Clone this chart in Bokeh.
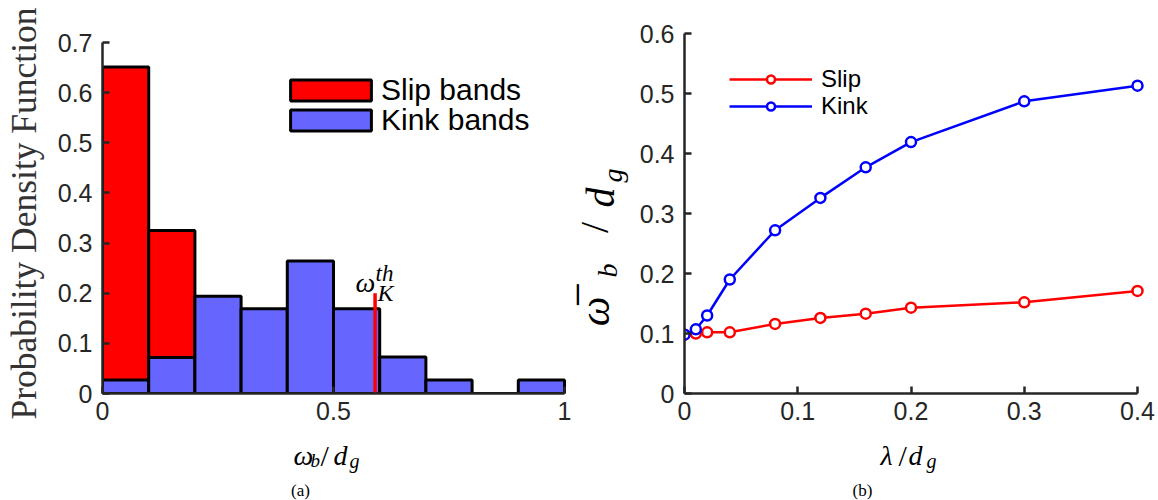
import math
from bokeh.plotting import figure
from bokeh.models import (Range1d, FixedTicker, CustomJSTickFormatter, Legend,
                          LegendItem, Label)
from bokeh.layouts import row, column
from bokeh.embed import file_html
from bokeh.resources import INLINE

# ---------------- data: (a) histogram ----------------
bin_edges = [0.0, 0.1, 0.2, 0.3, 0.4, 0.5, 0.6, 0.7, 0.8, 0.9, 1.0]
slip_pdf = [0.651, 0.325, 0.0, 0.0, 0.0, 0.0, 0.0, 0.0, 0.0, 0.0]
kink_pdf = [0.027, 0.072, 0.194, 0.169, 0.264, 0.169, 0.073, 0.027, 0.0, 0.027]
threshold_x = [0.59]
threshold_top = [0.2]
hist_xticks = [0, 0.5, 1]
hist_yticks = [0, 0.1, 0.2, 0.3, 0.4, 0.5, 0.6, 0.7]
hist_labels = ["Slip bands", "Kink bands"]

# ---------------- data: (b) mean band width ----------------
lam = [0, 0.01, 0.02, 0.04, 0.08, 0.12, 0.16, 0.2, 0.3, 0.4]
slip_mean = [0.098, 0.100, 0.102, 0.102, 0.116, 0.126, 0.133, 0.143, 0.152, 0.171]
kink_mean = [0.098, 0.107, 0.130, 0.190, 0.272, 0.326, 0.377, 0.419, 0.487, 0.513]
line_xticks = [0, 0.1, 0.2, 0.3, 0.4]
line_yticks = [0, 0.1, 0.2, 0.3, 0.4, 0.5, 0.6]
line_labels = ["Slip", "Kink"]

AX = "#262626"
SANS = "Liberation Sans"
SERIF = "Liberation Serif"
FMT = "return String(Math.round(tick*10)/10);"

TOP, FRAME_H, BOTTOM = 33, 360, 38


def style_axes(p, xticks, yticks):
    for ax in (p.xaxis[0], p.yaxis[0]):
        ax.axis_line_color = AX
        ax.axis_line_width = 2.5
        ax.major_tick_line_color = AX
        ax.major_tick_line_width = 2.5
        ax.major_tick_in = 7
        ax.major_tick_out = 0
        ax.minor_tick_line_color = None
        ax.major_label_text_font = SANS
        ax.major_label_text_font_size = "25px"
        ax.major_label_text_color = AX
        ax.formatter = CustomJSTickFormatter(code=FMT)
    p.xaxis[0].ticker = FixedTicker(ticks=xticks)
    p.yaxis[0].ticker = FixedTicker(ticks=yticks)
    p.xaxis[0].major_label_standoff = 8
    p.yaxis[0].major_label_standoff = 10
    p.grid.visible = False
    p.outline_line_color = None


def txt(p, text, x, y, size, italic=True, angle=0.0, align="left",
        baseline="alphabetic", font=SERIF, color="black"):
    p.add_layout(Label(x=x, y=y, x_units="screen", y_units="screen", text=text,
                       text_font=font, text_font_size=size,
                       text_font_style="italic" if italic else "normal",
                       angle=angle, text_align=align, text_baseline=baseline,
                       text_color=color))


def one_legend(p, label, renderers, x, y, size, gw, gh, standoff):
    leg = Legend(items=[LegendItem(label=label, renderers=renderers)],
                 location=(x, y), padding=0, margin=0, spacing=0,
                 border_line_color=None, background_fill_alpha=0,
                 label_text_font=SANS, label_text_font_size=size,
                 label_text_color="black",
                 glyph_width=gw, glyph_height=gh, label_standoff=standoff)
    p.add_layout(leg)


def text_fig(w, h, top=0, bottom=0):
    t = figure(frame_width=w, frame_height=h, min_border_left=0,
               min_border_right=0, min_border_top=top, min_border_bottom=bottom,
               x_range=Range1d(0, 1), y_range=Range1d(0, 1),
               x_axis_location=None, y_axis_location=None,
               output_backend="svg", toolbar_location=None)
    t.outline_line_color = None
    t.grid.visible = False
    return t


# ================= panel (a) =================
p1 = figure(frame_width=469, frame_height=FRAME_H,
            min_border_left=102, min_border_right=0, min_border_top=TOP,
            min_border_bottom=BOTTOM,
            x_range=Range1d(0, 1 + 7 / 462), y_range=Range1d(0, 0.7 * FRAME_H / 351),
            output_backend="svg", toolbar_location=None)
style_axes(p1, hist_xticks, hist_yticks)
p1.xaxis[0].bounds = (0, 1)
p1.yaxis[0].bounds = (0, 0.7)
p1.yaxis[0].axis_label = "Probability Density Function"
p1.yaxis[0].axis_label_text_font = SERIF
p1.yaxis[0].axis_label_text_font_style = "normal"
p1.yaxis[0].axis_label_text_font_size = "35.5px"
p1.yaxis[0].axis_label_text_color = "#333333"
p1.yaxis[0].axis_label_standoff = 11

r_slip = p1.quad(left=bin_edges[:-1], right=bin_edges[1:], bottom=0, top=slip_pdf,
                 fill_color="#FF0000", line_color="black", line_width=3)
r_kink = p1.quad(left=bin_edges[:-1], right=bin_edges[1:], bottom=0, top=kink_pdf,
                 fill_color="#6666FF", line_color="black", line_width=3)
p1.segment(x0=threshold_x, y0=[0], x1=threshold_x, y1=threshold_top,
           line_color="#FF0000", line_width=3.5)

# area legend glyphs are drawn inset by 10% on each side
one_legend(p1, hist_labels[0], [r_slip], 178, 286, "30px", 101, 26, 0)
one_legend(p1, hist_labels[1], [r_kink], 178, 256, "30px", 101, 26, 0)

# omega_K^th annotation (frame-relative px)
txt(p1, "ω", 253, 111, "28px")
txt(p1, "th", 273, 120, "23px")
txt(p1, "K", 275, 101, "24px")

# ================= label strip between the panels =================
ty = text_fig(65, FRAME_H, TOP, BOTTOM)
R = math.pi / 2
# overline(omega)_b / d_g, rotated; anchors are glyph centres
txt(ty, "ω\u0305", 23, 82, "42px", angle=R, align="center", baseline="middle")
txt(ty, "b", 36, 123, "28px", angle=R, align="center", baseline="middle")
txt(ty, "/", 23, 166, "40px", italic=False, angle=R, align="center", baseline="middle")
txt(ty, "d", 29, 196, "40px", angle=R, align="center", baseline="middle")
txt(ty, "g", 41, 218, "28px", angle=R, align="center", baseline="middle")

# ================= panel (b) =================
p2 = figure(frame_width=461, frame_height=FRAME_H,
            min_border_left=47, min_border_right=14, min_border_top=TOP,
            min_border_bottom=BOTTOM,
            x_range=Range1d(0, 0.4 * 461 / 453), y_range=Range1d(0, 0.6),
            output_backend="svg", toolbar_location=None)
style_axes(p2, line_xticks, line_yticks)
p2.xaxis[0].bounds = (0, 0.4)

ls = p2.line(lam, slip_mean, line_color="#FF0000", line_width=2.5)
ms = p2.scatter(lam, slip_mean, marker="circle", size=10, line_color="#FF0000",
                line_width=2.5, fill_color="white")
lk = p2.line(lam, kink_mean, line_color="#0000FF", line_width=2.5)
mk = p2.scatter(lam, kink_mean, marker="circle", size=10, line_color="#0000FF",
                line_width=2.5, fill_color="white")

one_legend(p2, line_labels[0], [ls, ms], 45, 300, "24px", 83, 20, 9)
one_legend(p2, line_labels[1], [lk, mk], 45, 273, "24px", 83, 20, 9)

# ================= bottom strips: x labels and captions =================
tx1 = text_fig(571, 69)
txt(tx1, "ω", 293, 45, "28px")
txt(tx1, "b", 310, 40, "19px")
txt(tx1, "/", 320, 45, "30px", italic=False)
txt(tx1, "d", 333, 45, "28px")
txt(tx1, "g", 349, 40, "20px")
txt(tx1, "(a)", 300, 10, "17px", italic=False, align="center", baseline="middle")

tx2 = text_fig(587, 69)
txt(tx2, "λ", 309, 45, "28px")
txt(tx2, "/", 327, 45, "30px", italic=False)
txt(tx2, "d", 337, 45, "28px")
txt(tx2, "g", 355, 40, "20px")
txt(tx2, "(b)", 291, 10, "17px", italic=False, align="center", baseline="middle")

layout = column(row(p1, ty, p2), row(tx1, tx2))
open("out.html", "w").write(file_html(layout, INLINE))
